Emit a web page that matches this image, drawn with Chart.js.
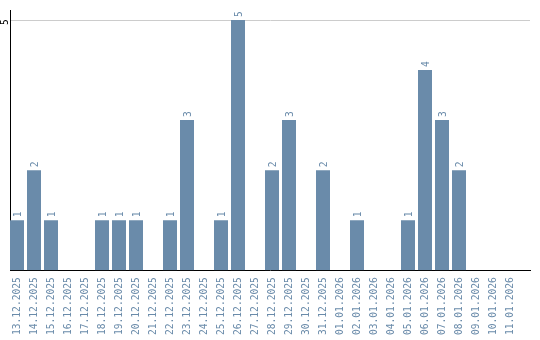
<!DOCTYPE html>
<html>
<head>
<meta charset="utf-8">
<script src="https://cdn.jsdelivr.net/npm/chart.js@4"></script>
<style>
  html, body { margin: 0; padding: 0; background: #fff; }
  #myChart { display: block; }
</style>
</head>
<body>
<canvas id="myChart" width="540" height="340"></canvas>
<script>
// datas e contagens
const dates = [
  '13.12.2025', '14.12.2025', '15.12.2025', '16.12.2025', '17.12.2025',
  '18.12.2025', '19.12.2025', '20.12.2025', '21.12.2025', '22.12.2025',
  '23.12.2025', '24.12.2025', '25.12.2025', '26.12.2025', '27.12.2025',
  '28.12.2025', '29.12.2025', '30.12.2025', '31.12.2025', '01.01.2026',
  '02.01.2026', '03.01.2026', '04.01.2026', '05.01.2026', '06.01.2026',
  '07.01.2026', '08.01.2026', '09.01.2026', '10.01.2026', '11.01.2026'
];
const counts = [1, 2, 1, 0, 0, 1, 1, 1, 0, 1, 3, 0, 1, 5, 0, 2, 3, 0, 2, 0, 1, 0, 0, 1, 4, 3, 2, 0, 0, 0];
const yTicks = [5];

(() => {
  'use strict';

  const ctx = document.getElementById('myChart');
  const barColor = '#6a8baa';
  const fontFamily = '"DejaVu Sans Mono", monospace';
  const fontSize = 9.6;

  // rótulos verticais sobre as barras e o "5" do eixo Y
  const labelsPlugin = {
    id: 'vlabels',
    afterDatasetsDraw(chart) {
      const c = chart.ctx;
      const meta = chart.getDatasetMeta(0);
      c.save();
      c.font = fontSize + 'px ' + fontFamily;
      c.fillStyle = barColor;
      c.textAlign = 'left';
      c.textBaseline = 'middle';
      meta.data.forEach((bar, i) => {
        if (!counts[i]) return;
        c.save();
        c.translate(bar.x, bar.y - 3);
        c.rotate(-Math.PI / 2);
        c.fillText(String(counts[i]), 0, 1);
        c.restore();
      });
      const yScale = chart.scales.y;
      c.fillStyle = '#000';
      c.textAlign = 'center';
      yTicks.forEach(v => {
        c.save();
        c.translate(5, yScale.getPixelForValue(v) + 2);
        c.rotate(-Math.PI / 2);
        c.fillText(String(v), 0, 0);
        c.restore();
      });
      c.restore();
    }
  };

  new Chart(ctx, {
    type: 'bar',
    data: {
      datasets: [{
        data: counts.map((v, i) => ({ x: i, y: v })),
        backgroundColor: barColor,
        borderWidth: 0,
        barPercentage: 14 / 17,
        categoryPercentage: 1
      }]
    },
    options: {
      responsive: false,
      animation: false,
      layout: { padding: { left: 10, right: 10, top: 10, bottom: -2 } },
      scales: {
        x: {
          type: 'linear',
          offset: false,
          min: -7 / 17,
          max: 520 / 17 - 7 / 17,
          afterBuildTicks: (scale) => {
            scale.ticks = dates.map((d, i) => ({ value: i }));
          },
          grid: { display: false, drawTicks: false },
          border: { color: '#000', width: 1 },
          ticks: {
            autoSkip: false,
            minRotation: 90,
            maxRotation: 90,
            padding: 7,
            color: barColor,
            font: { family: fontFamily, size: fontSize },
            callback: (v) => dates[v]
          }
        },
        y: {
          min: 0,
          max: 5.2,
          afterBuildTicks: (scale) => {
            scale.ticks = yTicks.map(v => ({ value: v }));
          },
          grid: { color: '#cccccc', drawTicks: false },
          border: { color: '#000', width: 1 },
          ticks: { display: false }
        }
      },
      plugins: {
        legend: { display: false },
        tooltip: { enabled: false }
      }
    },
    plugins: [labelsPlugin]
  });
})();
</script>
</body>
</html>
